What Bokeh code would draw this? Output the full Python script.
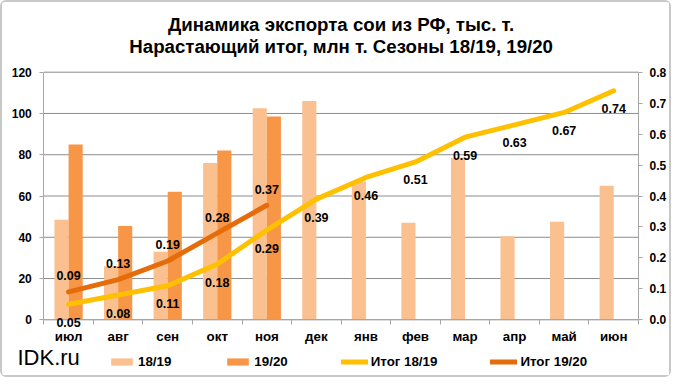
from bokeh.plotting import figure
from bokeh.models import (Range1d, LinearAxis, FixedTicker, NumeralTickFormatter,
                          ColumnDataSource, LabelSet, Label, Legend, LegendItem)
from bokeh.core.properties import value
from bokeh.embed import file_html
from bokeh.resources import INLINE

# ---- data ----
months = ["июл", "авг", "сен", "окт", "ноя", "дек", "янв", "фев", "мар", "апр", "май", "июн"]
exp_1819 = [48.5, 26, 33, 76, 102.5, 106, 67, 47, 78.5, 40.5, 47.5, 65]
exp_1920 = [85, 45.5, 62, 82, 98.5]
cum_1819 = [0.05, 0.08, 0.11, 0.18, 0.29, 0.39, 0.46, 0.51, 0.59, 0.63, 0.67, 0.74]
cum_1920 = [0.09, 0.13, 0.19, 0.28, 0.37]
left_ticks = [0, 20, 40, 60, 80, 100, 120]
right_ticks = [0.0, 0.1, 0.2, 0.3, 0.4, 0.5, 0.6, 0.7, 0.8]
title_lines = ["Динамика экспорта сои из РФ, тыс. т.",
               "Нарастающий итог, млн т. Сезоны 18/19, 19/20"]
series_names = ["18/19", "19/20", "Итог 18/19", "Итог 19/20"]
watermark = "IDK.ru"

# ---- styles / layout ----
C_BAR1 = "#FAC090"
C_BAR2 = "#F79646"
C_LINE1 = "#FFC000"
C_LINE2 = "#E46C0A"
GRID = "#8C8C8C"
AXIS = "#A6A6A6"
FONT = "Liberation Sans"

W, H = 671, 377                 # canvas
PX_X0, PX_X1 = 41.3, 636.0      # canvas x of left / right plot edge
PX_Y0, PX_YT = 317.3, 69.7      # canvas y (from top) of value 0 / top value
YMAX = left_ticks[-1]
RMAX = right_ticks[-1]
n = len(months)

ppx = (PX_X1 - PX_X0) / n
ppy = (PX_Y0 - PX_YT) / YMAX
def xd(px):
    return (px - PX_X0) / ppx
def yd(py):
    return (PX_Y0 - py) / ppy

p = figure(width=W, height=H, output_backend="svg", toolbar_location=None,
           title_location=None,
           x_range=Range1d(xd(0), xd(W)), y_range=Range1d(yd(H), yd(0)),
           min_border=0, min_border_left=0, min_border_right=0,
           min_border_top=0, min_border_bottom=0)
p.styles = {"border": "2px solid #C8C8C8", "border-radius": "6px"}
p.outline_line_color = None
p.background_fill_color = "white"
p.border_fill_color = "white"
rs = RMAX / YMAX
p.extra_y_ranges = {"right": Range1d(yd(H) * rs, yd(0) * rs)}

centers = [i + 0.5 for i in range(n)]
bw = 0.285

# grid lines over the plot area only
p.xgrid.visible = False
p.ygrid.visible = False
p.segment(x0=[0] * len(left_ticks), x1=[n] * len(left_ticks), y0=left_ticks, y1=left_ticks,
          line_color=GRID, line_width=1)

# x axis at value 0
xa = p.xaxis[0]
xa.fixed_location = 0
xa.bounds = (0, n)
xa.ticker = FixedTicker(ticks=centers, minor_ticks=list(range(n + 1)))
xa.major_label_overrides = {c: m for c, m in zip(centers, months)}
xa.major_tick_out = 0
xa.major_tick_in = 0
xa.minor_tick_out = 5
xa.minor_tick_in = 0
xa.minor_tick_line_color = AXIS
xa.axis_line_color = AXIS
xa.major_label_standoff = 4
xa.major_label_text_font = FONT
xa.major_label_text_font_style = "bold"
xa.major_label_text_font_size = "13.33px"
xa.major_label_text_color = "black"

ya = p.yaxis[0]
ya.fixed_location = 0
ya.bounds = (0, YMAX)
ya.ticker = FixedTicker(ticks=left_ticks)
ya.minor_tick_line_color = None
ya.major_tick_out = 4
ya.major_tick_in = 0
ya.major_tick_line_color = AXIS
ya.axis_line_color = AXIS
ya.major_label_standoff = 8
ya.major_label_text_font = FONT
ya.major_label_text_font_style = "bold"
ya.major_label_text_font_size = "12px"
ya.major_label_text_color = "black"

ra = LinearAxis(y_range_name="right", ticker=FixedTicker(ticks=right_ticks),
                formatter=NumeralTickFormatter(format="0.0"))
ra.fixed_location = n
ra.bounds = (0, RMAX)
ra.minor_tick_line_color = None
ra.major_tick_out = 4
ra.major_tick_in = 0
ra.major_tick_line_color = AXIS
ra.axis_line_color = AXIS
ra.major_label_standoff = 7
ra.major_label_text_font = FONT
ra.major_label_text_font_style = "bold"
ra.major_label_text_font_size = "12px"
ra.major_label_text_color = "black"
p.add_layout(ra, "right")

# bars
src1 = ColumnDataSource(dict(x=[c - bw / 2 for c in centers], top=exp_1819))
src2 = ColumnDataSource(dict(x=[c + bw / 2 for c in centers[:len(exp_1920)]], top=exp_1920))
r1 = p.vbar(x="x", top="top", width=bw, source=src1, fill_color=C_BAR1, line_color=None)
r2 = p.vbar(x="x", top="top", width=bw, source=src2, fill_color=C_BAR2, line_color=None)

# cumulative lines
lsrc1 = ColumnDataSource(dict(x=centers, y=cum_1819, t=["%.2f" % v for v in cum_1819]))
lsrc2 = ColumnDataSource(dict(x=centers[:len(cum_1920)], y=cum_1920,
                              t=["%.2f" % v for v in cum_1920]))
r3 = p.line(x="x", y="y", source=lsrc1, y_range_name="right", line_color=C_LINE1,
            line_width=5, line_join="round", line_cap="round")
r4 = p.line(x="x", y="y", source=lsrc2, y_range_name="right", line_color=C_LINE2,
            line_width=5, line_join="round", line_cap="round")

lab1 = LabelSet(x="x", y="y", text="t", source=lsrc1, y_range_name="right",
                y_offset=-18, text_align="center", text_baseline="middle",
                text_font=value(FONT), text_font_style="bold", text_font_size="12.5px",
                text_color="black")
lab2 = LabelSet(x="x", y="y", text="t", source=lsrc2, y_range_name="right",
                y_offset=16, text_align="center", text_baseline="middle",
                text_font=value(FONT), text_font_style="bold", text_font_size="12.5px",
                text_color="black")
p.add_layout(lab1)
p.add_layout(lab2)

# title (two lines)
for txt, py in zip(title_lines, [22, 44]):
    p.add_layout(Label(x=n / 2, y=yd(py), text=txt, text_align="center",
                       text_baseline="middle", text_font=FONT, text_font_style="bold",
                       text_font_size="18.67px", text_color="black"))

# watermark
p.add_layout(Label(x=xd(15), y=yd(355), text=watermark, text_align="left",
                   text_baseline="middle", text_font=FONT, text_font_size="22px",
                   text_color="black"))

legend = Legend(items=[LegendItem(label=series_names[0], renderers=[r1]),
                       LegendItem(label=series_names[1], renderers=[r2]),
                       LegendItem(label=series_names[2], renderers=[r3]),
                       LegendItem(label=series_names[3], renderers=[r4])],
                orientation="horizontal", location=(106, 10),
                glyph_width=27, glyph_height=9, label_height=14, label_standoff=3,
                spacing=53, padding=0, margin=0, border_line_color=None,
                background_fill_alpha=0,
                label_text_font=FONT, label_text_font_style="bold",
                label_text_font_size="13.33px", label_text_color="black")
p.add_layout(legend)

open("out.html", "w").write(file_html(p, INLINE))
